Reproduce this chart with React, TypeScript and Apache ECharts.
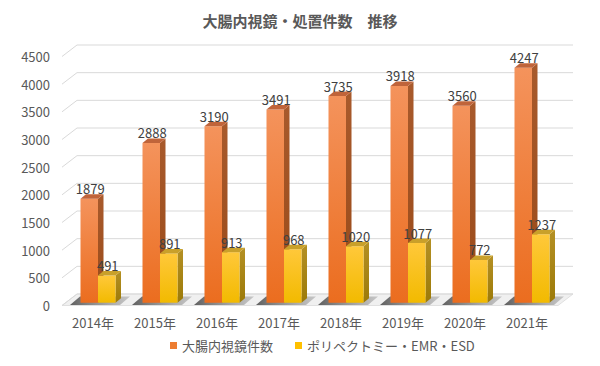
import React, { useEffect, useRef } from "react";
import * as echarts from "echarts";

const categories = ["2014年", "2015年", "2016年", "2017年", "2018年", "2019年", "2020年", "2021年"];
const endoscopy = [1879, 2888, 3190, 3491, 3735, 3918, 3560, 4247];
const polypectomy = [491, 891, 913, 968, 1020, 1077, 772, 1237];
const yTicks = [0, 500, 1000, 1500, 2000, 2500, 3000, 3500, 4000, 4500];
const seriesNames = ["大腸内視鏡件数", "ポリペクトミー・EMR・ESD"];

const FONT = '"Noto Sans CJK JP", "Noto Sans", sans-serif';
const WALL_DX = 15;
const WALL_DY = -11.5;
const BAR_W = 17.5;
const BAR_DX = 5.5;
const BAR_DY = -4.5;
const BAR_LIFT = 2.8;

function lg(c1: string, c2: string, horizontal = false) {
  return new echarts.graphic.LinearGradient(0, 0, horizontal ? 1 : 0, horizontal ? 0 : 1, [
    { offset: 0, color: c1 },
    { offset: 1, color: c2 },
  ]);
}

function makeBarRender(xoff: number, colors: { front: [string, string]; side: [string, string]; top: string }) {
  return (params: any, api: any) => {
    const idx = api.value(0);
    const v = api.value(1);
    const base = api.coord([idx, 0]);
    const top = api.coord([idx, v]);
    const x0 = base[0] + xoff;
    const yb = base[1] - BAR_LIFT;
    const yt = top[1] - BAR_LIFT;
    const w = BAR_W;
    return {
      type: "group",
      children: [
        {
          type: "polygon",
          shape: {
            points: [
              [x0 + w, yt],
              [x0 + w + BAR_DX, yt + BAR_DY],
              [x0 + w + BAR_DX, yb + BAR_DY],
              [x0 + w, yb],
            ],
          },
          style: { fill: lg(colors.side[0], colors.side[1]) },
        },
        {
          type: "rect",
          shape: { x: x0, y: yt, width: w, height: yb - yt },
          style: { fill: lg(colors.front[0], colors.front[1]) },
        },
        {
          type: "polygon",
          shape: {
            points: [
              [x0, yt],
              [x0 + BAR_DX, yt + BAR_DY],
              [x0 + w + BAR_DX, yt + BAR_DY],
              [x0 + w, yt],
            ],
          },
          style: { fill: colors.top },
        },
        {
          type: "text",
          x: x0 + w / 2 + 1,
          y: yt - 10,
          style: {
            text: String(v),
            fill: "#404040",
            font: `13px ${FONT}`,
            align: "center",
            verticalAlign: "middle",
          },
          z2: 10,
        },
      ],
    };
  };
}

export default function App() {
  const ref = useRef<HTMLDivElement>(null);
  useEffect(() => {
    if (!ref.current) return;
    const chart = echarts.init(ref.current, null, { renderer: "svg" });
    const option: any = {
      animation: false,
      backgroundColor: "#ffffff",
      title: {
        text: "大腸内視鏡・処置件数\u3000推移",
        left: "center",
        top: 8,
        textStyle: { fontFamily: FONT, fontSize: 15, fontWeight: "bold", color: "#595959" },
      },
      legend: {
        data: seriesNames,
        bottom: 9,
        left: 165,
        icon: "rect",
        itemWidth: 7,
        itemHeight: 7,
        itemGap: 22,
        textStyle: { fontFamily: FONT, fontSize: 13, color: "#595959" },
      },
      grid: { left: 62, right: 42, top: 56.5, bottom: 60.5, containLabel: false },
      xAxis: {
        type: "category",
        data: categories,
        axisLine: { show: false },
        axisTick: { show: false },
        axisLabel: { fontFamily: FONT, fontSize: 13, color: "#595959", margin: 10 },
        splitLine: { show: false },
      },
      yAxis: {
        type: "value",
        min: 0,
        max: 4500,
        interval: 500,
        axisLine: { show: false },
        axisTick: { show: false },
        splitLine: { show: false },
        axisLabel: {
          fontFamily: FONT,
          fontSize: 13,
          color: "#595959",
          margin: 12,
          formatter: (v: number) => String(v),
        },
      },
      series: [
        {
          type: "custom",
          name: "floor",
          z: 1,
          silent: true,
          data: [[0, 0]],
          renderItem: (params: any, api: any) => {
            const cs = params.coordSys;
            const y = api.coord([0, 0])[1];
            const xl = cs.x;
            const xr = cs.x + cs.width;
            return {
              type: "polygon",
              shape: {
                points: [
                  [xl, y],
                  [xr, y],
                  [xr + WALL_DX, y + WALL_DY],
                  [xl + WALL_DX, y + WALL_DY],
                ],
              },
              style: { fill: "#f0f0f0", stroke: "#e0e0e0", lineWidth: 1 },
            };
          },
        },
        {
          type: "custom",
          name: "grid",
          z: 2,
          silent: true,
          data: yTicks.map((t) => [0, t]),
          renderItem: (params: any, api: any) => {
            const cs = params.coordSys;
            const y = api.coord([0, api.value(1)])[1];
            const xl = cs.x;
            const xr = cs.x + cs.width;
            return {
              type: "polyline",
              shape: {
                points: [
                  [xl, y],
                  [xl + WALL_DX, y + WALL_DY],
                  [xr + WALL_DX, y + WALL_DY],
                ],
              },
              style: { stroke: "#d9d9d9", lineWidth: 1, fill: "none" },
            };
          },
        },
        {
          type: "custom",
          name: "shadow",
          z: 3,
          silent: true,
          data: categories.map((_, i) => [i, 0]),
          renderItem: (params: any, api: any) => {
            const base = api.coord([api.value(0), 0]);
            const c = base[0];
            const y = base[1];
            return {
              type: "polygon",
              shape: {
                points: [
                  [c - 23, y - 0.5],
                  [c + 27, y - 0.5],
                  [c + 37, y - 9],
                  [c - 13, y - 9],
                ],
              },
              style: { fill: lg("rgba(70,70,70,0.85)", "rgba(120,120,120,0.35)", true) },
            };
          },
        },
        {
          type: "custom",
          name: seriesNames[0],
          z: 4,
          itemStyle: { color: "#ED7D31" },
          data: endoscopy.map((v, i) => [i, v]),
          renderItem: makeBarRender(-12.5, {
            front: ["#F4935C", "#EB6D1F"],
            side: ["#A85A2C", "#9A4A18"],
            top: "#C0643A",
          }),
        },
        {
          type: "custom",
          name: seriesNames[1],
          z: 5,
          itemStyle: { color: "#FFC000" },
          data: polypectomy.map((v, i) => [i, v]),
          renderItem: makeBarRender(5, {
            front: ["#FFC83A", "#F2BA00"],
            side: ["#B49024", "#9C7A08"],
            top: "#C9A02A",
          }),
        },
      ],
    };
    chart.setOption(option);
    return () => chart.dispose();
  }, []);
  return <div ref={ref} style={{ width: 600, height: 366, position: "absolute", left: 0, top: 0 }} />;
}
